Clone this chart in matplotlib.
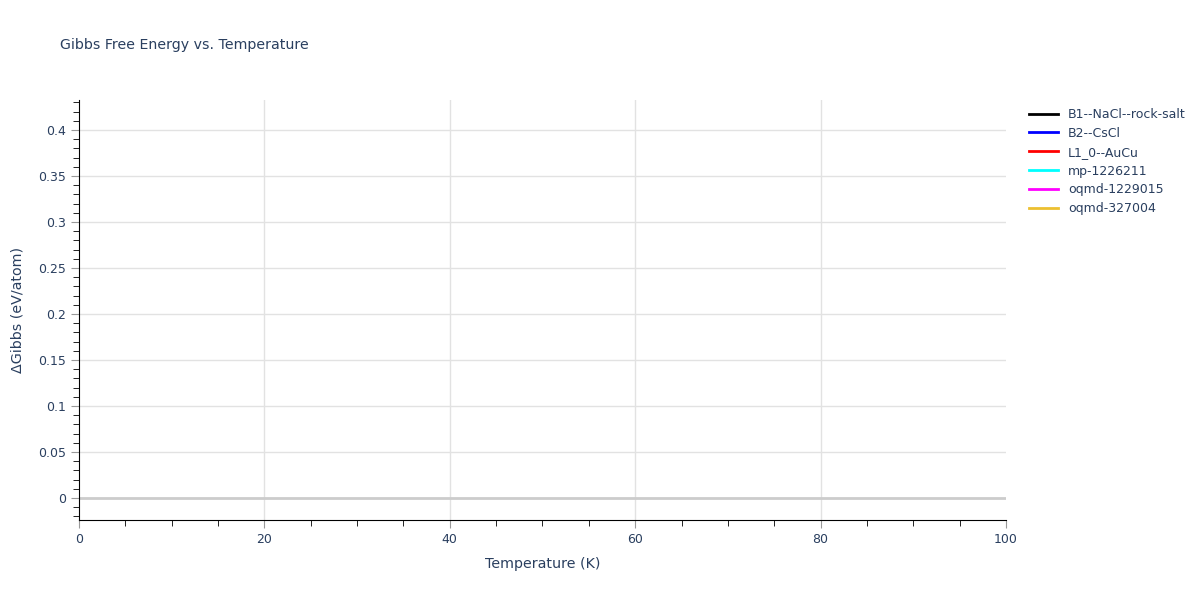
import numpy as np
import matplotlib.pyplot as plt
from matplotlib.ticker import MultipleLocator

# series names and colours (no data points are shown in the chart)
names = ['B1--NaCl--rock-salt', 'B2--CsCl', 'L1_0--AuCu', 'mp-1226211', 'oqmd-1229015', 'oqmd-327004']
colors = ['black', 'blue', 'red', 'cyan', 'magenta', '#ecc030']
temps = []
gibbs = []

txt = '#2a3f5f'
fig = plt.figure(figsize=(12, 6), dpi=100)
ax = fig.add_axes([0.0658, 0.1333, 0.7725, 0.7])

for n, c in zip(names, colors):
    ax.plot(temps, gibbs, color=c, lw=2, label=n)

ax.set_xlim(0, 100)
ax.set_ylim(-0.0239, 0.4326)
ax.xaxis.set_minor_locator(MultipleLocator(5))
ax.yaxis.set_minor_locator(MultipleLocator(0.01))
ax.set_xticks([0, 20, 40, 60, 80, 100])
ax.set_yticks(np.arange(0, 0.41, 0.05))
ax.set_yticklabels(['0', '0.05', '0.1', '0.15', '0.2', '0.25', '0.3', '0.35', '0.4'])

# grid lines only between the ends
for x in [20, 40, 60, 80]:
    ax.axvline(x, color='#e2e2e2', lw=1, zorder=0)
for y in np.arange(0.05, 0.41, 0.05):
    ax.axhline(y, color='#e2e2e2', lw=1, zorder=0)
ax.axhline(0, color='#cccccc', lw=2, zorder=1)
for s in ['top', 'right']:
    ax.spines[s].set_visible(False)
for s in ['left', 'bottom']:
    ax.spines[s].set_color('black')
ax.tick_params(which='major', length=6, color='#999999', labelcolor=txt, labelsize=9, pad=3)
ax.tick_params(which='minor', length=4, color='black')

ax.set_xlabel('Temperature (K)', color=txt, fontsize=10.3, labelpad=8)
ax.set_ylabel('ΔGibbs (eV/atom)', color=txt, fontsize=10.3, labelpad=10)
fig.text(0.05, 0.925, 'Gibbs Free Energy vs. Temperature', color=txt, fontsize=10.2, va='center')

leg = ax.legend(loc='upper left', bbox_to_anchor=(1.02, 0.993), frameon=False,
                fontsize=9, handlelength=2.3, labelspacing=0.47, borderaxespad=0)
for t in leg.get_texts():
    t.set_color(txt)

fig.savefig('out.png', dpi=100)
